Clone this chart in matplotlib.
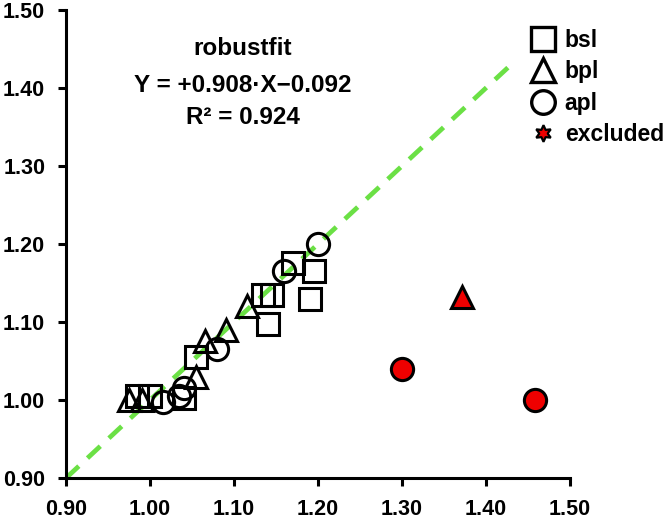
import matplotlib
matplotlib.use('Agg')
import matplotlib.pyplot as plt
from matplotlib.lines import Line2D

plt.rcParams['font.family'] = ['Liberation Sans', 'DejaVu Sans']
plt.rcParams['font.weight'] = 'bold'

# данные
bsl_x = [0.985, 1.000, 1.040, 1.055, 1.135, 1.145, 1.140, 1.170, 1.195, 1.190]
bsl_y = [1.005, 1.005, 1.003, 1.055, 1.135, 1.135, 1.098, 1.175, 1.165, 1.130]

bpl_x = [0.975, 0.990, 1.055, 1.065, 1.090, 1.115]
bpl_y = [1.000, 1.000, 1.030, 1.075, 1.090, 1.120]

apl_x = [1.015, 1.035, 1.040, 1.080, 1.160, 1.200]
apl_y = [0.998, 1.005, 1.015, 1.065, 1.165, 1.200]

excl_circle_x = [1.300, 1.458]
excl_circle_y = [1.040, 1.000]
excl_tri_x = [1.372]
excl_tri_y = [1.132]

ref_line = [0.90, 1.432]

ticks = [0.90, 1.00, 1.10, 1.20, 1.30, 1.40, 1.50]
tick_labels = ['0.90', '1.00', '1.10', '1.20', '1.30', '1.40', '1.50']

fit_lines = ['robustfit', 'Y = +0.908·X\u22120.092', 'R\u00b2 = 0.924']

fig = plt.figure(figsize=(6.69, 5.23), dpi=100)
ax = fig.add_axes([0.0987, 0.086, 0.7533, 0.895])

ax.plot(ref_line, ref_line, linestyle=(0, (3.7, 2.5)), color='#6be045', linewidth=3.4, zorder=1)

ms = 16
mew = 2.2
ax.plot(bsl_x, bsl_y, linestyle='none', marker='s', markersize=ms, markerfacecolor='none',
        markeredgecolor='black', markeredgewidth=mew, zorder=2)
ax.plot(bpl_x, bpl_y, linestyle='none', marker='^', markersize=ms, markerfacecolor='none',
        markeredgecolor='black', markeredgewidth=mew, zorder=2)
ax.plot(apl_x, apl_y, linestyle='none', marker='o', markersize=ms, markerfacecolor='none',
        markeredgecolor='black', markeredgewidth=mew, zorder=2)
ax.plot(excl_circle_x, excl_circle_y, linestyle='none', marker='o', markersize=16,
        markerfacecolor='#ee0000', markeredgecolor='black', markeredgewidth=2.2, zorder=3)
ax.plot(excl_tri_x, excl_tri_y, linestyle='none', marker='^', markersize=16,
        markerfacecolor='#ee0000', markeredgecolor='black', markeredgewidth=2.2, zorder=3)

ax.set_xlim(0.90, 1.50)
ax.set_ylim(0.90, 1.50)
ax.set_xticks(ticks)
ax.set_yticks(ticks)
ax.set_xticklabels(tick_labels, fontsize=15.5, fontweight='bold')
ax.set_yticklabels(tick_labels, fontsize=15.5, fontweight='bold')
ax.tick_params(direction='out', length=6, width=2.2)
ax.tick_params(axis='y', pad=9)
ax.tick_params(axis='x', pad=9)
ax.spines['top'].set_visible(False)
ax.spines['right'].set_visible(False)
ax.spines['left'].set_linewidth(2.2)
ax.spines['bottom'].set_linewidth(2.2)

for txt, yy in zip(fit_lines, [0.908, 0.836, 0.776]):
    fig.text(0.363, yy, txt, ha='center', va='center', fontsize=17.5, fontweight='bold')

handles = [
    Line2D([], [], linestyle='none', marker='s', markersize=17, markerfacecolor='none',
           markeredgecolor='black', markeredgewidth=2.4),
    Line2D([], [], linestyle='none', marker='^', markersize=17, markerfacecolor='none',
           markeredgecolor='black', markeredgewidth=2.4),
    Line2D([], [], linestyle='none', marker='o', markersize=17, markerfacecolor='none',
           markeredgecolor='black', markeredgewidth=2.4),
    Line2D([], [], linestyle='none', marker=(6, 1, 0), markersize=12, markerfacecolor='#ee0000',
           markeredgecolor='black', markeredgewidth=1.6),
]
fig.legend(handles, ['bsl', 'bpl', 'apl', 'excluded'], loc='upper left',
           bbox_to_anchor=(0.767, 0.975), frameon=False, prop={'size': 16.5, 'weight': 'bold'},
           handletextpad=0.35, labelspacing=0.36, handlelength=1.2, borderpad=0.2)

fig.savefig('out.png', dpi=100)
